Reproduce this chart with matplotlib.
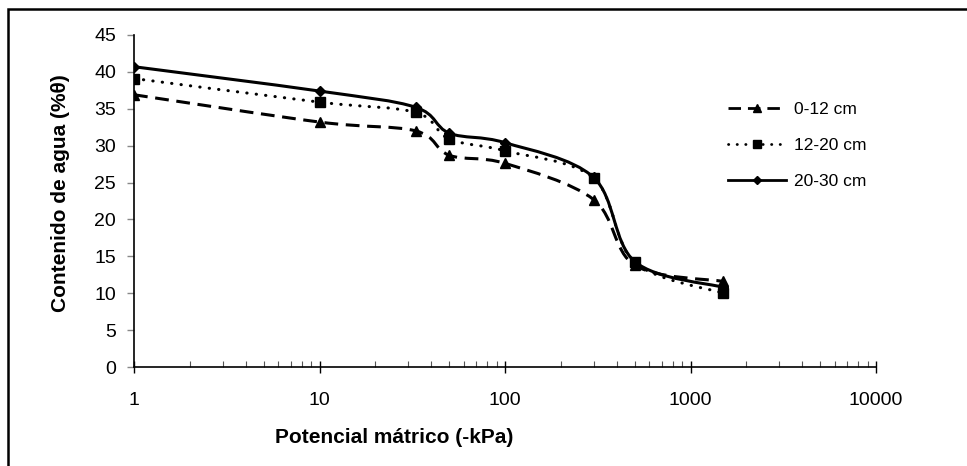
import numpy as np
from matplotlib import pyplot as plt
from matplotlib.path import Path
from matplotlib.patches import PathPatch, Rectangle
from matplotlib.lines import Line2D
from matplotlib.ticker import LogLocator, FixedLocator, NullFormatter

plt.rcParams['font.family'] = ['Liberation Sans', 'DejaVu Sans']

# potencial matrico (-kPa)
potencial = [1, 10, 33, 50, 100, 300, 500, 1500]
# contenido de agua (%)
agua_0_12 = [36.9, 33.2, 32.0, 28.7, 27.6, 22.7, 13.8, 11.6]
agua_12_20 = [39.1, 35.9, 34.5, 30.9, 29.3, 25.6, 14.2, 10.0]
agua_20_30 = [40.7, 37.4, 35.2, 31.7, 30.4, 25.7, 14.3, 10.8]

labels = ['0-12 cm', '12-20 cm', '20-30 cm']


def smooth_path(x, y):
    # curva suavizada tipo Excel (bezier en espacio log-x)
    lx = np.log10(x)
    y = np.asarray(y, dtype=float)
    n = len(lx)
    verts = [(x[0], y[0])]
    codes = [Path.MOVETO]
    for i in range(n - 1):
        i0 = max(i - 1, 0)
        i3 = min(i + 2, n - 1)
        c1x = lx[i] + (lx[i + 1] - lx[i0]) / 6
        c1y = y[i] + (y[i + 1] - y[i0]) / 6
        c2x = lx[i + 1] - (lx[i3] - lx[i]) / 6
        c2y = y[i + 1] - (y[i3] - y[i]) / 6
        verts += [(10 ** c1x, c1y), (10 ** c2x, c2y), (x[i + 1], y[i + 1])]
        codes += [Path.CURVE4] * 3
    return Path(verts, codes)


fig = plt.figure(figsize=(9.67, 4.66), dpi=100)
ax = fig.add_axes([0.1386, 0.2124, 0.906 - 0.1386, 0.9249 - 0.2124])

estilos = [
    dict(ls=(0, (4.5, 2.5)), marker='^', ms=7.5, cap='butt'),
    dict(ls=(0, (0.1, 3.0)), marker='s', ms=6.5, cap='round'),
    dict(ls='-', marker='D', ms=5.5, cap='butt'),
]
series = [agua_0_12, agua_12_20, agua_20_30]

handles = []
for yv, st, lab in zip(series, estilos, labels):
    patch = PathPatch(smooth_path(potencial, yv), facecolor='none',
                      edgecolor='black', lw=2.2, linestyle=st['ls'],
                      capstyle=st['cap'])
    ax.add_patch(patch)
    ax.plot(potencial, yv, linestyle='none', marker=st['marker'],
            ms=st['ms'], color='black')
    handles.append(Line2D([], [], color='black', lw=2.0, linestyle=st['ls'],
                          dash_capstyle=st['cap'],
                          marker=st['marker'], ms=st['ms'] * 0.8, label=lab))

ax.set_xscale('log')
ax.set_xlim(1, 10000)
ax.set_ylim(0, 45)
ax.set_yticks(range(0, 46, 5))
ax.xaxis.set_major_locator(FixedLocator([1, 10, 100, 1000, 10000]))
ax.set_xticklabels(['1', '10', '100', '1000', '10000'])
ax.xaxis.set_minor_locator(LogLocator(base=10, subs=np.arange(2, 10)))
ax.xaxis.set_minor_formatter(NullFormatter())

ax.spines['top'].set_visible(False)
ax.spines['right'].set_visible(False)
ax.spines['left'].set_linewidth(1.2)
ax.spines['bottom'].set_linewidth(1.2)

ax.tick_params(axis='y', direction='out', length=5, width=1, color='#888888',
               labelsize=14, pad=8)
ax.tick_params(axis='x', which='major', direction='inout', length=8, width=1,
               labelsize=14, pad=14)
ax.tick_params(axis='x', which='minor', direction='in', length=4, width=0.8,
               color='#555555')

ax.set_xlabel('Potencial mátrico (-kPa)', fontsize=15, fontweight='bold')
ax.set_ylabel('Contenido de agua (%θ)', fontsize=15, fontweight='bold')
ax.xaxis.set_label_coords(0.350, -0.184)
ax.yaxis.set_label_coords(-0.0863, 0.524)

ax.legend(handles=handles, loc='upper left', bbox_to_anchor=(0.78, 0.845),
          frameon=False, fontsize=12.5, handlelength=3.3, labelspacing=1.2,
          numpoints=1, handletextpad=0.5)

# marco exterior
fig.patches.append(Rectangle((8 / 967, -0.05), 1.2, 1 - 9 / 466 + 0.05,
                             transform=fig.transFigure, fill=False,
                             edgecolor='black', lw=1.8))

fig.savefig('out.png', dpi=100)
